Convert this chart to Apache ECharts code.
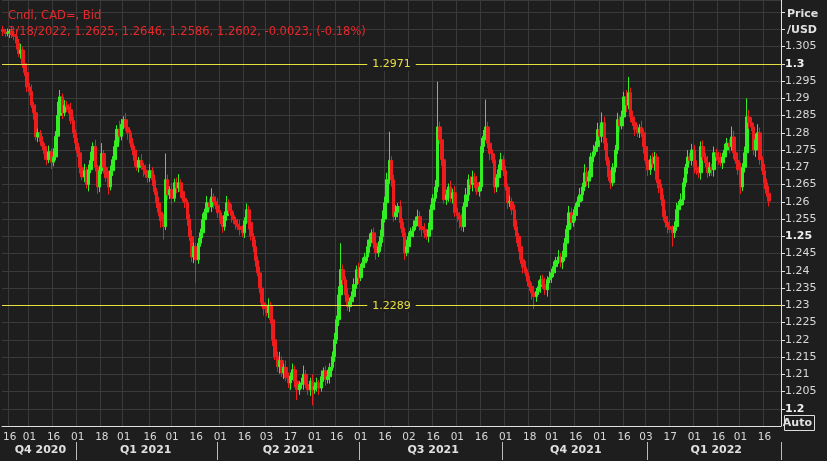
<!DOCTYPE html>
<html><head><meta charset="utf-8">
<script src="https://cdn.jsdelivr.net/npm/echarts@6/dist/echarts.min.js"></script>
<style>html,body{margin:0;padding:0;background:#1e1e1e}#c{width:827px;height:461px}</style>
</head><body><div id="c"></div>
<script>
// closes in pips above 1.2000
const closePips=[1093,1088,1090,1095,1085,1080,1060,1030,1040,1000,975,933,920,880,858,788,800,775,760,740,
722,745,715,730,790,850,904,858,880,875,867,835,800,770,742,700,672,690,650,693,
720,760,700,643,690,740,700,670,643,690,722,760,810,790,825,838,815,800,770,750,
720,700,720,705,693,680,670,690,664,630,597,570,545,528,664,620,635,610,655,640,
655,630,610,597,550,499,440,470,432,480,510,548,570,597,585,614,600,590,568,545,
528,560,597,575,560,548,535,528,520,510,545,577,540,500,470,430,394,350,307,290,
278,300,258,200,151,122,140,104,120,90,75,95,113,80,55,70,75,100,70,55,
80,55,65,75,60,93,110,85,93,120,151,200,258,330,403,374,330,296,310,325,
360,403,380,410,423,440,470,490,510,480,452,470,499,550,597,664,720,664,557,570,
586,540,510,452,470,499,515,528,545,557,528,520,510,500,519,577,610,643,817,780,
722,606,620,643,610,626,568,560,548,528,586,620,664,650,672,655,630,643,760,790,
817,770,740,722,643,670,693,722,690,643,597,600,577,528,500,470,432,410,394,370,
354,336,325,340,354,374,360,345,374,380,394,412,430,440,425,440,480,520,568,540,
560,586,600,620,643,684,660,672,730,745,760,809,790,829,770,720,672,655,700,750,
838,820,846,904,880,916,846,830,809,800,815,800,760,720,693,722,710,730,664,640,
606,557,540,528,520,510,528,577,590,606,655,700,730,720,750,700,690,684,760,730,
713,684,700,693,742,730,722,713,730,750,770,760,788,742,720,693,643,700,742,846,
830,817,750,780,800,722,690,655,625,602];
const upWick=[10,8,12,6,15,10,20,12,18,10,15,8,12,20,10,25,12,8,15,10,12,18,10,25,15,40,20,10,15,12,
8,20,12,10,15,18,12,20,10,15,25,12,20,8,15,30,10,12,20,15,10,18,12,25,15,10,20,12,8,15,
12,20,10,18,8,15,12,20,10,15,10,18,12,20,76,15,10,20,12,15,25,10,15,12,8,15,20,12,10,15,
12,18,10,20,12,25,10,15,20,8,15,12,20,10,18,12,8,15,20,12,10,18,12,15,10,20,12,18,10,15,
12,20,10,18,8,15,25,12,10,20,15,10,18,12,20,10,15,25,12,18,10,20,12,15,8,18,10,15,20,12,
15,20,12,25,77,15,10,20,12,15,18,12,20,10,15,12,20,18,10,15,12,15,20,25,18,20,83,12,15,20,
10,18,12,15,20,12,10,18,12,20,15,10,18,12,20,15,12,20,131,15,20,12,15,10,18,12,20,15,10,18,
12,20,15,10,18,12,20,15,25,18,79,15,20,12,18,10,15,20,12,15,10,18,12,15,20,10,15,12,18,10,
15,12,20,10,18,12,15,20,10,18,12,15,10,20,12,18,15,12,20,15,18,10,15,20,12,25,15,18,12,20,
15,20,12,30,18,15,10,20,12,15,20,12,18,15,20,46,15,18,12,15,10,20,12,15,18,12,20,15,10,18,
12,15,20,10,18,12,15,20,12,18,15,10,20,12,18,15,20,12,15,18,12,20,15,10,18,12,15,20,12,18,
15,12,30,18,10,15,20,12,18,54,20,15,12,18,25,15,10,20,12,21];
const lowWick=[12,10,8,15,10,12,18,10,15,12,10,15,12,8,20,10,15,12,10,18,15,10,20,12,10,15,12,18,10,15,
12,10,15,20,12,18,10,15,12,20,10,15,12,20,15,10,18,12,22,10,15,12,10,18,12,15,10,20,12,15,
18,10,15,12,20,10,15,12,18,10,15,12,20,38,10,15,12,18,10,15,12,18,10,15,20,12,15,18,67,12,
10,15,12,18,10,15,20,12,15,10,18,12,15,10,20,12,15,10,18,12,15,10,20,12,15,18,10,15,12,20,
10,15,12,18,10,15,20,12,18,10,15,20,12,18,30,15,12,20,10,15,18,45,12,15,20,10,15,18,12,20,
10,15,12,18,10,15,20,12,15,10,15,12,18,10,20,15,12,18,10,15,20,12,15,18,10,15,12,20,15,10,
15,18,12,20,10,15,12,18,10,15,12,20,15,10,18,12,15,10,15,12,18,12,15,20,10,15,12,18,25,12,
15,10,18,12,20,15,10,15,12,18,12,15,20,10,18,15,12,20,15,10,18,12,15,10,20,15,12,18,10,15,
12,20,36,15,10,18,12,15,20,10,15,12,18,10,15,20,12,15,10,18,12,15,20,10,18,12,15,20,12,15,
10,15,12,18,20,15,12,18,10,15,12,18,10,15,20,12,15,10,18,12,15,12,20,10,18,15,12,20,10,15,
18,12,15,20,10,40,15,12,18,10,15,12,20,10,15,18,12,15,20,10,12,15,10,18,20,12,15,10,18,12,
15,20,12,18,10,15,20,12,15,10,18,12,15,20,10,15,12,18,10,16];
const firstOpenPips=1100;
const categoryCount=355;
const dateTicks={3:'16',12:'01',23:'16',34:'01',45:'18',55:'01',67:'16',77:'01',88:'16',99:'01',110:'16',120:'03',131:'17',142:'01',152:'16',163:'01',174:'16',185:'02',196:'16',207:'01',218:'16',229:'01',240:'18',250:'01',261:'16',272:'01',283:'16',293:'03',304:'17',315:'01',326:'16',336:'01',347:'16'};
const quarterLabels={17:'Q4 2020',65:'Q1 2021',130:'Q2 2021',196:'Q3 2021',261:'Q4 2021',325:'Q1 2022'};
const quarterBounds=[34,98,163,228,294];
const supportLevels=[1.2971,1.2289];
const lastPrice=1.2602;
const headerLine1='Cndl, CAD=, Bid';
const headerLine2='3/18/2022, 1.2625, 1.2646, 1.2586, 1.2602, -0.0023, (-0.18%)';

const P=v=>+(1.2+v/10000).toFixed(4);
const ohlc=closePips.map((c,i)=>{const o=i?closePips[i-1]:firstOpenPips;
  return [P(o),P(c),P(Math.min(o,c)-lowWick[i]),P(Math.max(o,c)+upWick[i])];});
const cats=Array.from({length:categoryCount},(_,i)=>String(i));
const F='"DejaVu Sans", Verdana, sans-serif';
const chart=echarts.init(document.getElementById('c'));
chart.setOption({
  backgroundColor:'#1e1e1e',animation:false,
  title:{left:3,top:3,text:headerLine1+'\n'+headerLine2,textStyle:{color:'#e8282a',fontSize:11.5,fontWeight:'normal',fontFamily:F,lineHeight:16}},
  grid:{left:0,right:46,top:0,bottom:35},
  xAxis:[{type:'category',data:cats,boundaryGap:true,
    axisLine:{lineStyle:{color:'#e0e0e0'}},
    axisTick:{interval:(i)=>dateTicks[i]!==undefined,length:4,lineStyle:{color:'#aaa'}},
    axisLabel:{interval:(i)=>dateTicks[i]!==undefined,formatter:(v)=>dateTicks[v]||'',color:'#d8d8d8',fontSize:10.5,fontFamily:F,margin:6},
    splitLine:{show:true,interval:(i)=>dateTicks[i]!==undefined,lineStyle:{color:'#3a3a3a'}}},
   {type:'category',data:cats,position:'bottom',offset:16,gridIndex:0,boundaryGap:true,
    axisLine:{show:false},
    axisTick:{show:true,interval:(i)=>quarterBounds.includes(i),length:18,inside:false,lineStyle:{color:'#bbb'}},
    axisLabel:{interval:(i)=>quarterLabels[i]!==undefined,formatter:(v)=>quarterLabels[v]||'',color:'#e0e0e0',fontSize:11,fontWeight:'bold',fontFamily:F,margin:3},
    splitLine:{show:false}}],
  yAxis:{type:'value',position:'right',min:1.195,max:1.3185,interval:0.005,
    axisLine:{show:true,lineStyle:{color:'#e0e0e0'}},
    axisTick:{show:true,length:4,lineStyle:{color:'#e0e0e0'}},
    axisLabel:{showMinLabel:false,showMaxLabel:false,margin:4,fontFamily:F,fontSize:11,color:'#d8d8d8',
      formatter:(v)=>{if(v>1.3075)return '';const s=String(+v.toFixed(3));return (Math.round(v*10000)%500===0)?'{b|'+s+'}':s;},
      rich:{b:{fontWeight:'bold',color:'#eee',fontSize:11,fontFamily:F}}},
    splitLine:{show:true,lineStyle:{color:'#3a3a3a'}},
    name:'Price\n/USD',nameLocation:'end',nameGap:-38,nameTextStyle:{color:'#e0e0e0',fontWeight:'bold',fontSize:11,fontFamily:F,align:'left',padding:[0,0,0,6],lineHeight:16}},
  series:[{type:'candlestick',data:ohlc,barWidth:3,
    itemStyle:{color:'#33ee22',color0:'#ee1c1c',borderColor:'#33ee22',borderColor0:'#ee1c1c',borderWidth:1},
    markLine:{symbol:'none',silent:true,
      data:[...supportLevels.map(v=>({yAxis:v,lineStyle:{color:'#e8e040',width:1,type:'solid'},
        label:{show:true,position:'middle',formatter:v.toFixed(4),color:'#e8e040',backgroundColor:'#1e1e1e',padding:[1,5],fontSize:11,fontFamily:F,distance:-7}})),
        {yAxis:lastPrice,lineStyle:{opacity:0},label:{show:true,position:'end',formatter:lastPrice.toFixed(4),color:'#fff',backgroundColor:'#e01010',fontWeight:'bold',fontSize:11.5,fontFamily:F,padding:[2,4,1,3],distance:1}}]}}],
  graphic:[{type:'rect',right:12,bottom:30,shape:{width:30,height:15},style:{fill:'#1e1e1e',stroke:'#ddd',lineWidth:1}},
    {type:'text',right:15,bottom:32,style:{text:'Auto',fill:'#e0e0e0',font:'bold 11px '+F}}]
});
</script></body></html>
